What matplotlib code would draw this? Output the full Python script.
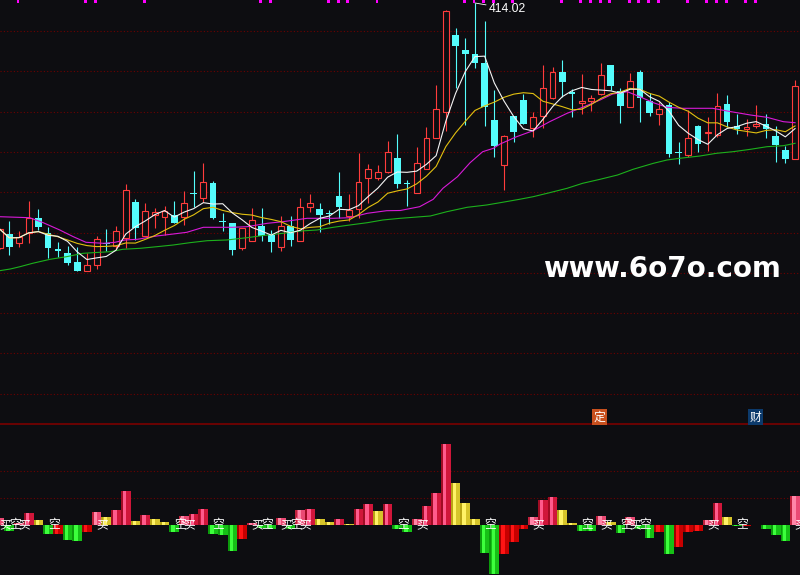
import numpy as np
import pandas as pd
import matplotlib
matplotlib.use('Agg')
import matplotlib.pyplot as plt
from matplotlib.lines import Line2D

plt.rcParams['font.family'] = ['Noto Sans CJK SC', 'DejaVu Sans']

# daily candles
opens = [168.7, 183.0, 173.7, 183.7, 198.7, 183.7, 168.3, 163.7, 155.0, 146.3,
         152.3, 174.0, 171.3, 179.3, 215.0, 181.3, 202.0, 199.7, 201.7, 200.3,
         224.3, 219.3, 234.0, 196.3, 194.0, 169.3, 176.3, 191.3, 181.7, 170.3,
         191.0, 176.3, 209.7, 208.0, 203.7, 221.0, 201.3, 207.7, 238.7, 238.7,
         244.7, 259.0, 234.0, 224.3, 248.0, 278.7, 304.7, 382.0, 367.0, 363.0,
         354.3, 297.0, 251.7, 301.0, 317.0, 288.7, 301.3, 318.7, 345.3, 324.7,
         314.3, 316.0, 322.7, 352.0, 326.3, 310.3, 345.0, 316.3, 303.3, 312.0,
         265.3, 262.0, 291.0, 284.0, 282.0, 312.7, 291.3, 288.3, 291.3, 292.7,
         281.0, 267.0, 258.3]
highs = [188.5, 196.0, 186.0, 216.0, 208.0, 189.7, 174.7, 171.0, 169.7, 163.7,
         181.0, 188.0, 191.0, 233.3, 218.0, 214.0, 209.0, 210.7, 216.0, 226.0,
         245.7, 254.0, 236.0, 204.3, 194.0, 189.3, 209.0, 209.0, 187.0, 201.0,
         201.0, 219.0, 223.0, 214.3, 207.0, 245.0, 223.0, 264.0, 253.0, 252.0,
         276.0, 283.0, 237.0, 270.3, 290.3, 332.0, 407.0, 389.0, 379.0, 414.02,
         396.0, 327.0, 282.0, 301.0, 323.0, 304.7, 352.0, 350.3, 357.0, 328.0,
         343.0, 322.0, 354.3, 352.0, 328.7, 344.3, 347.0, 323.7, 315.3, 315.3,
         275.3, 307.0, 291.7, 300.3, 323.7, 321.7, 303.0, 298.0, 312.0, 302.7,
         291.3, 271.3, 337.0]
lows = [168.0, 162.0, 170.3, 174.3, 187.0, 159.3, 160.3, 152.0, 146.3, 146.3,
        148.3, 166.3, 167.0, 168.7, 177.0, 181.3, 189.3, 182.3, 193.7, 192.3,
        210.3, 214.7, 198.0, 186.0, 162.3, 167.3, 175.7, 176.0, 165.3, 166.0,
        171.3, 175.7, 205.0, 185.3, 193.0, 198.7, 196.3, 198.7, 214.3, 237.0,
        243.7, 229.3, 211.3, 224.3, 248.0, 278.7, 286.3, 329.3, 292.0, 349.0,
        291.0, 260.3, 227.0, 275.3, 293.0, 280.3, 288.7, 318.0, 320.3, 300.3,
        303.0, 306.0, 322.0, 327.0, 293.7, 310.3, 295.3, 301.3, 292.0, 260.3,
        253.0, 260.3, 264.7, 266.3, 280.3, 290.3, 283.0, 281.3, 288.7, 278.7,
        255.3, 253.7, 257.7]
closes = [188.0, 170.3, 179.7, 198.7, 190.3, 169.3, 165.7, 154.3, 146.3, 151.7,
          177.7, 172.7, 185.7, 226.7, 189.0, 205.7, 204.7, 206.3, 193.7, 213.7,
          223.3, 234.7, 199.3, 195.3, 167.3, 189.3, 196.7, 181.0, 175.3, 191.0,
          177.0, 209.7, 213.7, 202.0, 202.7, 210.3, 207.3, 234.7, 247.7, 244.7,
          264.7, 233.3, 233.0, 253.7, 278.7, 308.0, 405.7, 371.3, 362.7, 354.3,
          310.3, 271.3, 281.0, 285.3, 293.0, 299.7, 328.7, 344.7, 335.3, 322.7,
          316.3, 318.7, 341.7, 331.3, 311.3, 335.7, 318.7, 304.3, 308.0, 263.0,
          264.3, 278.7, 273.0, 284.7, 311.0, 295.3, 288.0, 289.7, 293.0, 288.0,
          272.0, 258.0, 331.0]

# 20 and 60 day averages (candle index, price)
ma20_idx = [0, 3.1, 4.5, 6.2, 7.6, 8.9, 10.7, 11.9, 12.9, 14.2,
            16.2, 17.9, 19.3, 21.0, 24.0, 25.5, 27.6, 29.2, 31.7, 34.4,
            36.1, 37.9, 39.9, 41.3, 43.3, 44.7, 45.7, 47.2, 48.5, 49.8,
            50.9, 51.6, 53.3, 55.0, 56.7, 58.5, 60.1, 61.9, 63.2, 64.7,
            66.0, 67.4, 68.8, 70.4, 73.5, 75.0, 77.4, 79.1, 80.8, 82.0]
ma20_val = [200.3, 199.3, 194.3, 187.0, 180.3, 174.7, 173.7, 174.7, 177.0, 177.7,
            181.0, 183.0, 184.7, 189.7, 189.7, 190.3, 193.7, 195.3, 198.7, 198.7,
            199.3, 203.7, 206.3, 206.5, 210.3, 217.7, 228.7, 240.3, 254.3, 265.3,
            268.7, 273.0, 280.3, 286.3, 295.3, 303.7, 309.7, 317.0, 323.0, 325.3,
            320.3, 314.3, 309.7, 308.7, 308.7, 306.0, 302.0, 299.7, 295.3, 294.3]
ma60_idx = [0, 1.1, 2.1, 3.4, 5.2, 6.9, 8.6, 10.3, 11.4, 12.7,
            14.5, 16.2, 17.9, 19.6, 21.4, 23.4, 25.5, 27.6, 29.2, 31.0,
            32.7, 34.4, 36.1, 37.9, 39.5, 41.3, 44.4, 46.1, 48.2, 50.2,
            51.6, 53.6, 55.0, 56.7, 58.5, 60.1, 61.9, 63.7, 65.3, 67.4,
            68.8, 70.1, 72.2, 73.9, 75.6, 77.4, 79.1, 80.8, 82.0]
ma60_val = [146.3, 148.0, 150.3, 153.7, 157.7, 160.3, 163.7, 164.7, 165.3, 167.7,
            168.7, 170.3, 172.0, 174.3, 176.3, 177.0, 179.3, 182.0, 183.7, 186.0,
            187.0, 189.7, 192.0, 194.3, 197.0, 198.7, 201.0, 205.3, 209.7, 212.0,
            214.3, 217.7, 220.3, 224.3, 228.7, 233.7, 237.7, 242.0, 247.7, 253.7,
            257.0, 258.7, 261.0, 263.7, 265.3, 267.7, 270.3, 271.3, 273.7]

# candles flagged with the magenta marks on the top edge
flags = [2, 9, 10, 15, 27, 28, 34, 35, 36, 39, 48, 49, 50, 51, 53, 58, 60, 61,
         62, 63, 65, 66, 67, 68, 71, 73, 74, 75, 77, 78]

# lower panel oscillator
osc = [2.4, -2.2, 0.7, 4.3, 1.7, -3.4, -3.3, -5.7, -6.0, -2.6,
       4.7, 2.9, 5.4, 12.5, 1.4, 3.6, 2.1, 1.0, -2.6, 3.2,
       4.0, 5.8, -3.3, -3.7, -9.6, -5.2, 0.6, -1.1, -1.7, 2.5,
       -1.6, 5.4, 5.8, 2.1, 1.0, 2.1, 0.3, 5.8, 7.7, 5.1,
       7.7, -1.6, -2.6, 2.1, 6.9, 11.7, 29.9, 15.4, 8.0, 2.1,
       -10.4, -18.1, -10.7, -6.3, -1.5, 2.9, 9.1, 10.3, 5.4, 0.6,
       -2.2, -2.3, 3.2, 1.0, -3.0, 2.9, -1.7, -4.8, -2.6, -10.7,
       -8.1, -2.6, -2.2, 1.7, 8.0, 2.9, -0.4, -0.3, -0.25, -1.5,
       -3.7, -5.9, 10.6]

bg = '#0d0d11'
red = '#ff3c3c'
cyan = '#54fcfc'
grid_c = '#6e0000'

o = np.array(opens); h = np.array(highs); l = np.array(lows); c = np.array(closes)
n = len(c)
x = np.arange(n)

fig = plt.figure(figsize=(8, 5.75), dpi=100, facecolor=bg)
ax = fig.add_axes([0, 151 / 575, 1, 424 / 575])
ax2 = fig.add_axes([0, 0, 1, 150 / 575])
for a in (ax, ax2):
    a.set_facecolor(bg)
    a.axis('off')
    a.set_xlim(0.04, 82.51)
ax.set_ylim(-7, 417)
ax2.set_ylim(-18.6, 36.9)

# dotted grid
for lev in 386 - 40.3 * np.arange(10):
    ax.axhline(lev, color=grid_c, lw=0.8, ls=(0, (1, 2)), zorder=0)
for lev in (10, 20):
    ax2.axhline(lev, color=grid_c, lw=0.8, ls=(0, (1, 2)), zorder=0)
fig.add_artist(Line2D([0, 1], [151.5 / 575] * 2, color='#7a0000', lw=1.2))

# candles
up = c >= o
dn = ~up
lo = np.minimum(o, c)
hi = np.maximum(o, c)
ax.vlines(x[dn], l[dn], h[dn], color=cyan, lw=0.8, zorder=2)
ax.bar(x[dn], np.maximum(hi - lo, 1.0)[dn], bottom=lo[dn], width=0.68,
       color=cyan, lw=0, zorder=2)
ax.vlines(x[up], hi[up], h[up], color=red, lw=0.8, zorder=2)
ax.vlines(x[up], l[up], lo[up], color=red, lw=0.8, zorder=2)
ax.bar(x[up], (hi - lo)[up], bottom=lo[up], width=0.6, facecolor=bg,
       edgecolor=red, lw=0.8, zorder=2)

# moving averages
ma5 = pd.Series(c).rolling(5, min_periods=1).mean()
ma10 = pd.Series(c).rolling(10, min_periods=1).mean()
ax.plot(ma60_idx, ma60_val, color='#1cb01c', lw=0.8, zorder=3)
ax.plot(ma20_idx, ma20_val, color='#d81ad8', lw=0.8, zorder=3)
ax.plot(x, ma10, color='#e2c010', lw=0.8, zorder=3)
ax.plot(x, ma5, color='#f4f4f4', lw=0.8, zorder=3)

# magenta marks along the top
ax.bar(np.array(flags) - 0.1, 3, bottom=414, width=0.3, color='#ff00ff', lw=0, zorder=4)

# highest price label
top = int(np.argmax(h))
ax.annotate(f'{h[top]:.2f}', xy=(top, h[top]), xytext=(10, -4),
            textcoords='offset points', color='white', fontsize=8.7,
            family='Liberation Sans', va='center', ha='left',
            arrowprops=dict(arrowstyle='-', color='white', lw=0.6,
                            shrinkA=0, shrinkB=0))

# watermark and tags
fig.text(543 / 800, 1 - 277 / 575, 'www.6o7o.com', color='white', fontsize=20,
         fontweight='bold', family='DejaVu Sans', ha='left', va='baseline')
fig.text(599.5 / 800, 1 - 417 / 575, '定', color='white', fontsize=8.5,
         ha='center', va='center',
         bbox=dict(boxstyle='square,pad=0.12', fc='#c8501e', ec='none'))
fig.text(755.5 / 800, 1 - 417 / 575, '财', color='white', fontsize=8.5,
         ha='center', va='center',
         bbox=dict(boxstyle='square,pad=0.12', fc='#0c3a6c', ec='none'))

# oscillator bars
v = np.array(osc)
prev = np.r_[v[0] - 1, v[:-1]]
base, shade, light = [], [], []
for i in range(n):
    if v[i] >= 0 and (i == 0 or prev[i] < 0):
        base.append('#ea4a74'); shade.append('#c0203c'); light.append('#ff86a8')
    elif v[i] >= 0 and v[i] >= prev[i]:
        base.append('#d0163a'); shade.append('#a00c24'); light.append('#ff5a8c')
    elif v[i] >= 0:
        base.append('#d6c42a'); shade.append('#b8a414'); light.append('#fff266')
    elif v[i] < prev[i]:
        base.append('#16c016'); shade.append('#0c9a0c'); light.append('#3cff3c')
    else:
        base.append('#c80000'); shade.append('#a00000'); light.append('#ff1414')
ax2.bar(x, v, width=1.0, color=base, lw=0, zorder=2)
ax2.bar(x - 0.4, v, width=0.2, color=shade, lw=0, zorder=2)
ax2.bar(x - 0.12, v, width=0.34, color=light, lw=0, zorder=2)

# buy / short labels where the oscillator changes sign
for i in range(n):
    if i == 0 or np.sign(v[i]) != np.sign(v[i - 1]):
        ax2.text(i - 0.05, 0, '买' if v[i] > 0 else '空', color='white',
                 fontsize=8.5, ha='left', va='center', zorder=4)

fig.savefig('out.png', dpi=100, facecolor=bg)
